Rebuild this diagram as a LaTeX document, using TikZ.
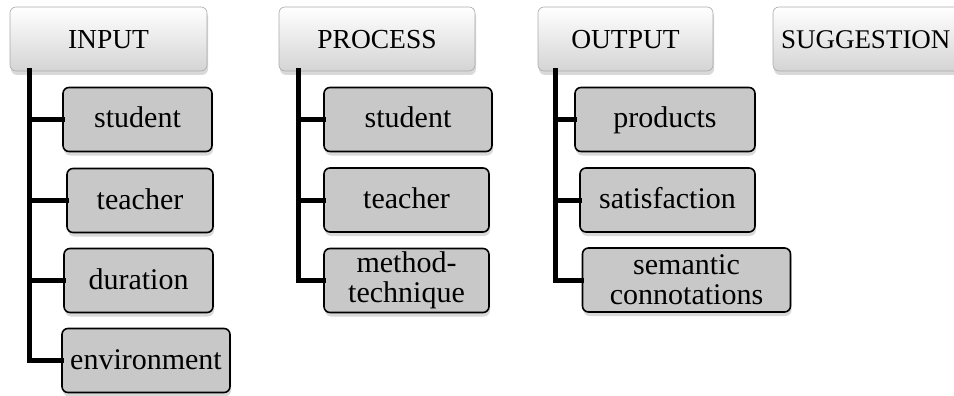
\documentclass[tikz,border=0pt]{standalone}
\usepackage{fontspec}
\setmainfont{Liberation Serif}
\usetikzlibrary{shadows}
\definecolor{boxgray}{RGB}{200,200,200}
\definecolor{headbot}{RGB}{212,212,212}
\definecolor{headborder}{RGB}{170,170,170}
\tikzset{
  hdr/.style={rectangle, rounded corners=6pt, draw=headborder, line width=0.6pt,
    top color=white, bottom color=headbot, minimum width=#1, minimum height=64pt,
    inner sep=0pt, font=\fontsize{27.5}{31}\selectfont,
    text height=24pt, text depth=4pt,
    drop shadow={shadow xshift=1pt, shadow yshift=-4pt, opacity=0.3, fill=gray}},
  item/.style={rectangle, rounded corners=6pt, draw=black, line width=1.6pt,
    fill=boxgray, minimum width=#1, minimum height=64pt, inner sep=0pt,
    align=center, font=\fontsize{30}{31}\selectfont,
    drop shadow={shadow xshift=1pt, shadow yshift=-4pt, opacity=0.3, fill=gray}},
  oneline/.style={text height=22pt, text depth=5pt},
  conn/.style={line width=5pt, line join=miter, line cap=rect, draw=black}
}
\begin{document}
\begin{tikzpicture}[x=1pt,y=-1pt]
\useasboundingbox (0,0) rectangle (954,396);
\clip (0,0) rectangle (954,396);
% headers
\node[hdr=197pt] (inp) at (108.5,39) {INPUT};
\node[hdr=196pt] (proc) at (377,39) {PROCESS};
\node[hdr=175pt] (outp) at (625.5,39) {OUTPUT};
\node[hdr=196pt, text width=180pt, align=left, font=\fontsize{27}{31}\selectfont] (sugg) at (871,39) {SUGGESTION};
% trunk tops
\coordinate (it) at (29,71);
\coordinate (pt) at (298,71);
\coordinate (ot) at (555,71);
% input items
\node[item=149pt, oneline] (ist) at (137.5,119.5) {student};
\node[item=146pt, oneline] (ite) at (140,200.5) {teacher};
\node[item=149pt, oneline] (idu) at (138.5,280.5) {duration};
\node[item=168pt, oneline] (ien) at (146,360.5) {environment};
% process items
\node[item=168pt, oneline] (pst) at (408,119.5) {student};
\node[item=165pt, oneline] (pte) at (406.5,200) {teacher};
\node[item=165pt] (pme) at (406.5,280.5) {method-\\[-1pt]technique};
% output items
\node[item=180pt, oneline] (opr) at (665,119.5) {products};
\node[item=175pt, oneline] (osa) at (667.5,200) {satisfaction};
\node[item=208pt] (ose) at (686.5,280) {semantic\\[-1pt]connotations};
% connectors
\draw[conn] (it) |- (ien.west);
\draw[conn] (it |- ist.west) -- (ist.west);
\draw[conn] (it |- ite.west) -- (ite.west);
\draw[conn] (it |- idu.west) -- (idu.west);
\draw[conn] (pt) |- (pme.west);
\draw[conn] (pt |- pst.west) -- (pst.west);
\draw[conn] (pt |- pte.west) -- (pte.west);
\draw[conn] (ot) |- (ose.west);
\draw[conn] (ot |- opr.west) -- (opr.west);
\draw[conn] (ot |- osa.west) -- (osa.west);
\end{tikzpicture}
\end{document}
